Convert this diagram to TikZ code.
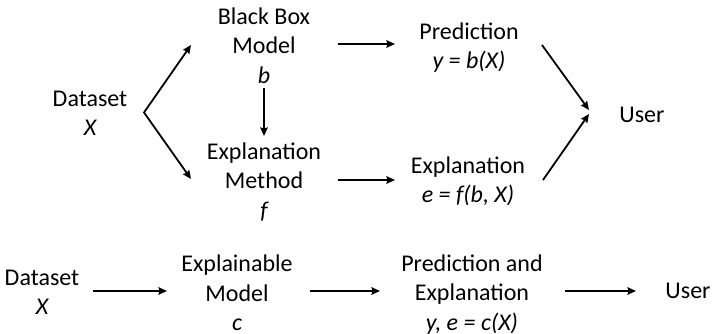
\documentclass[tikz,border=0pt]{standalone}
\usepackage{fontspec}
\setmainfont{Carlito}
\usetikzlibrary{arrows.meta}
\begin{document}
\begin{tikzpicture}[x=1pt,y=-1pt,
  lbl/.style={anchor=north,inner sep=0pt,align=center,font=\fontsize{24}{29.5}\selectfont},
  tip/.tip={Stealth[length=8.5pt,width=7.5pt,inset=1pt]},
  arr/.style={line width=1.8pt,-tip},
  darr/.style={line width=1.8pt,tip-tip}]
\useasboundingbox (0,0) rectangle (713,334);
% top row
\node[lbl] (ds)   at (90,90.5)  {Dataset\\\itshape X};
\node[lbl] (bb)   at (264,7.5)  {Black Box\\Model\\\itshape b};
\node[lbl] (em)   at (264,142.5) {Explanation\\Method\\\itshape f};
\node[lbl] (pred) at (469,22.5) {Prediction\\\itshape y = b(X)};
\node[lbl] (ex)   at (468,156.5) {Explanation\\\itshape e = f(b, X)};
\node[lbl] (user) at (642,106.5) {User};
% bottom row
\node[lbl] (ds2)   at (42,269.5)  {Dataset\\\itshape X};
\node[lbl] (em2)   at (237,255)  {Explainable\\Model\\\itshape c};
\node[lbl] (pe2)   at (472,254.5) {Prediction and\\Explanation\\\itshape y, e = c(X)};
\node[lbl] (user2) at (688,282.5) {User};
% connector end points
\coordinate (split) at (144,112.5);
\coordinate (tobb) at (191,45);
\coordinate (toem) at (191,179);
\coordinate (bbout) at (264,88);
\coordinate (emin) at (264,136);
\coordinate (bbr) at (338,44);
\coordinate (predl) at (395,44);
\coordinate (emr) at (338,180);
\coordinate (exl) at (395,180);
\coordinate (predr) at (542,45);
\coordinate (useru) at (589,110);
\coordinate (exr) at (543,180);
\coordinate (userd) at (589,114);
\coordinate (b1s) at (93,291);
\coordinate (b1e) at (167,291);
\coordinate (b2s) at (310,291);
\coordinate (b2e) at (380,291);
\coordinate (b3s) at (565,291);
\coordinate (b3e) at (636,291);
% connectors
\draw[darr] (tobb) -- (split) -- (toem);
\draw[arr] (bbout) -- (emin);
\draw[arr] (bbr) -- (predl);
\draw[arr] (emr) -- (exl);
\draw[arr] (predr) -- (useru);
\draw[arr] (exr) -- (userd);
\draw[arr] (b1s) -- (b1e);
\draw[arr] (b2s) -- (b2e);
\draw[arr] (b3s) -- (b3e);
\end{tikzpicture}
\end{document}
